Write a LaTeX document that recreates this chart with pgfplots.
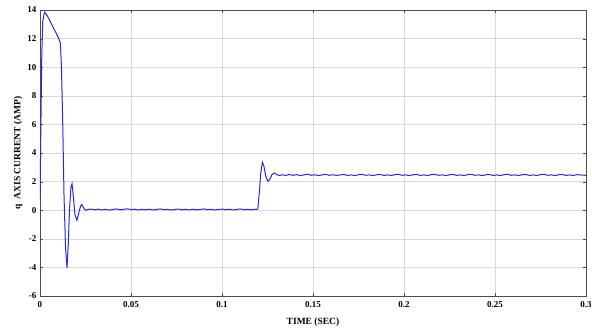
\documentclass[border=0pt]{standalone}
\usepackage{fontspec}
\setmainfont{Liberation Serif}
\usepackage{pgfplots}
\pgfplotsset{compat=1.18}
\definecolor{curve}{RGB}{40,40,225}
\begin{document}
\begin{tikzpicture}
\begin{axis}[
  name=ax,
  scale only axis,
  width=546pt, height=286pt,
  xmin=0, xmax=0.3, ymin=-6, ymax=14,
  xtick={0,0.05,0.1,0.15,0.2,0.25,0.3},
  xticklabels={0,0.05,0.1,0.15,0.2,0.25,0.3},
  ytick={-6,-4,...,14},
  grid=major,
  grid style={gray!30, line width=0.4pt},
  axis line style={black!70, line width=0.6pt},
  tick style={black!70},
  major tick length=3pt,
  tick align=inside,
  ticklabel style={font=\bfseries\fontsize{9}{10}\selectfont},
  xticklabel style={yshift=-2pt},
  /pgf/number format/assume math mode=true,
  xlabel={TIME (SEC)},
  ylabel={q\ \ AXIS CURRENT (AMP)},
  label style={font=\bfseries\fontsize{9.5}{11}\selectfont},
  xlabel style={at={(axis description cs:0.5,0)}, anchor=base, yshift=-28pt},
  ylabel style={at={(axis description cs:0,0.5)}, anchor=center, yshift=22pt},
]
\addplot[color=curve, line width=1pt] coordinates {
(0,0.8) (0.0005,6) (0.001,11) (0.0015,13.2) (0.0025,13.85) (0.004,13.6) (0.006,13.1) (0.008,12.6) (0.010,12.1) (0.0112,11.7)
(0.0118,10) (0.0125,6) (0.0132,1) (0.0140,-2.5) (0.0148,-4.05) (0.0155,-2.5) (0.0162,0) (0.0170,1.6) (0.0176,1.85) (0.0183,1.0)
(0.0192,-0.3) (0.0203,-0.7) (0.0213,-0.2) (0.0223,0.3) (0.0230,0.4) (0.0240,0.15) (0.0250,0.0) (0.0265,0.05) (0.028,0.08)
(0.030,0.03) (0.032,0.07) (0.034,0.02) (0.036,0.06) (0.038,0.01) (0.040,0.05) (0.042,0.09) (0.044,0.03) (0.046,0.06)
(0.048,0.10) (0.050,0.04) (0.052,0.07) (0.054,0.02) (0.056,0.06) (0.058,0.03) (0.060,0.07) (0.062,0.02) (0.064,0.05)
(0.066,0.09) (0.068,0.04) (0.070,0.06) (0.072,0.01) (0.074,0.05) (0.076,0.08) (0.078,0.03) (0.080,0.06) (0.082,0.02)
(0.084,0.07) (0.086,0.03) (0.088,0.05) (0.090,0.09) (0.092,0.04) (0.094,0.06) (0.096,0.02) (0.098,0.05) (0.100,0.08)
(0.102,0.03) (0.104,0.07) (0.106,0.02) (0.108,0.05) (0.110,0.09) (0.112,0.04) (0.114,0.06) (0.116,0.03) (0.118,0.07)
(0.1190,0.05) (0.1197,0.1) (0.1205,1.2) (0.1213,2.6) (0.1222,3.35) (0.1230,3.1) (0.1240,2.4) (0.1252,2.02) (0.1262,2.15)
(0.1275,2.5) (0.1288,2.6) (0.1300,2.5) (0.1315,2.42) (0.1330,2.48) (0.135,2.43) (0.137,2.50) (0.139,2.44) (0.141,2.49)
(0.143,2.42) (0.145,2.47) (0.147,2.52) (0.149,2.44) (0.151,2.48) (0.153,2.42) (0.155,2.47) (0.157,2.51) (0.159,2.44)
(0.161,2.48) (0.163,2.43) (0.165,2.47) (0.167,2.50) (0.169,2.43) (0.171,2.47) (0.173,2.42) (0.175,2.48) (0.177,2.51)
(0.179,2.44) (0.181,2.47) (0.183,2.42) (0.185,2.48) (0.187,2.50) (0.189,2.43) (0.191,2.47) (0.193,2.42) (0.195,2.49)
(0.197,2.51) (0.199,2.44) (0.201,2.47) (0.203,2.42) (0.205,2.48) (0.207,2.50) (0.209,2.43) (0.211,2.47) (0.213,2.42)
(0.215,2.49) (0.217,2.51) (0.219,2.44) (0.221,2.47) (0.223,2.42) (0.225,2.48) (0.227,2.50) (0.229,2.43) (0.231,2.47)
(0.233,2.42) (0.235,2.49) (0.237,2.51) (0.239,2.44) (0.241,2.47) (0.243,2.42) (0.245,2.48) (0.247,2.50) (0.249,2.43)
(0.251,2.47) (0.253,2.42) (0.255,2.49) (0.257,2.51) (0.259,2.44) (0.261,2.47) (0.263,2.42) (0.265,2.48) (0.267,2.50)
(0.269,2.43) (0.271,2.47) (0.273,2.42) (0.275,2.49) (0.277,2.51) (0.279,2.44) (0.281,2.47) (0.283,2.42) (0.285,2.48)
(0.287,2.50) (0.289,2.43) (0.291,2.47) (0.293,2.42) (0.295,2.49) (0.297,2.46) (0.300,2.44)
};
\end{axis}
\pgfresetboundingbox
\path[use as bounding box] ([shift={(-40pt,-34pt)}]ax.south west) rectangle ([shift={(6pt,10pt)}]ax.north east);
\end{tikzpicture}
\end{document}
